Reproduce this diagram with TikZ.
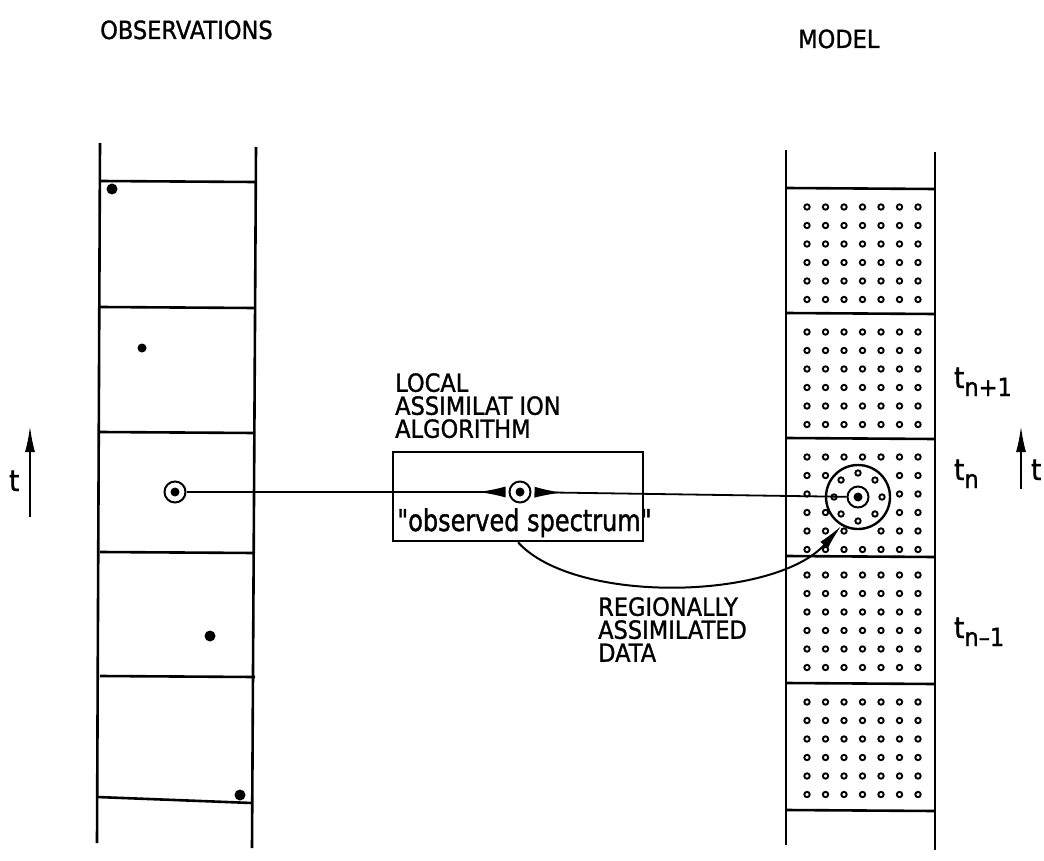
\documentclass[tikz,border=0pt]{standalone}
\usepackage{fontspec}
\setmainfont{DejaVu Sans}[FakeStretch=0.9,FakeBold=1.2]
\newfontfamily\specfont{DejaVu Sans}[FakeStretch=0.8,FakeBold=1.2]
\usetikzlibrary{arrows.meta,calc}
\begin{document}
\begin{tikzpicture}[x=1pt,y=-1pt,
  rail/.style={line width=2.6pt},
  lbl/.style={font=\fontsize{25}{23}\selectfont, inner sep=0pt, align=left},
  tlbl/.style={font=\fontsize{29}{29}\selectfont, inner sep=0pt},
  obsdot/.style={fill, circle, inner sep=0pt, minimum size=11pt},
  griddot/.style={line width=1.9pt},
  target/.style={draw, circle, line width=2pt, minimum size=21pt, inner sep=0pt,
    path picture={\fill (path picture bounding box.center) circle (4.5pt);}},
  wedge/.style={line width=1.8pt, shorten >=3pt, -{Latex[reversed,length=28pt,width=11pt]}},
  taxis/.style={line width=2pt, -{Latex[length=26pt,width=10pt]}},
]
\useasboundingbox (0,0) rectangle (1044,861);
\newcommand{\subsz}{\fontsize{25}{25}\selectfont}

% titles
\node[lbl, anchor=base west] (obsT) at (100,39) {OBSERVATIONS};
\node[lbl, anchor=base west] (modT) at (798,48) {MODEL};

% observation column
\draw[rail] (100,143) -- (97,843);
\draw[rail] (256,147) -- (252,848);
\foreach \y in {181,307,432,552,676}
  \draw[rail] (100,\y) -- (255,\y+1);
\draw[rail] (97,797) -- (252,803);
\node[obsdot] (o1) at (112,189) {};
\node[obsdot, minimum size=9pt] (o2) at (142,348) {};
\node[obsdot] (o3) at (210,636) {};
\node[obsdot] (o4) at (240,795) {};
\node[target] (obs) at (175,492) {};

% model column
\draw[rail] (786,150) -- (786,845);
\draw[rail] (935,152) -- (935,850);
\foreach \y in {188,313,438,556,683,810}
  \draw[rail] (786,\y) -- (935,\y+1);
\foreach \top in {188,313,438,556,683}{
  \foreach \i in {0,...,6}{
    \foreach \j in {0,...,5}{
      \pgfmathsetmacro\xx{807+18.5*\i}
      \pgfmathsetmacro\yy{\top+19+18.5*\j}
      \pgfmathsetmacro\dd{veclen(\xx-858,\yy-497)}
      \ifdim\dd pt<35pt\else
        \draw[griddot] (\xx,\yy) circle (2.7pt);
      \fi
    }
  }
}
\node[draw, circle, line width=2.4pt, minimum size=64pt, inner sep=0pt] (mout) at (858,497) {};
\node[target] (mdl) at (858,497) {};
\foreach \a in {0,45,...,315}
  \draw[griddot] ($(mdl)+(\a:24pt)$) circle (2.7pt);

% assimilation box
\node[lbl, anchor=north west] (alg) at (395,373) {LOCAL\\ASSIMILAT ION\\ALGORITHM};
\node[draw, line width=2.6pt, minimum width=250pt, minimum height=89pt, inner sep=0pt] (box) at (518,496.5) {};
\node[inner sep=0pt, anchor=base west, font=\specfont\fontsize{30}{30}\selectfont] (spec) at (397,531) {"observed spectrum"};
\node[target] (ctr) at (520,492) {};

\draw[wedge] (obs) -- (ctr);
\draw[wedge] (mdl) -- (ctr);

% regional assimilation arrow
\draw[line width=2pt, -{Latex[length=26pt,width=10pt]}] (box.south) .. controls (575,605) and (775,600) .. (mout.240);
\node[lbl, anchor=north west] (reg) at (598,597) {REGIONALLY\\ASSIMILATED\\DATA};

% time labels
\node[tlbl, anchor=base west] (tn1) at (954,388) {t\raisebox{-8pt}{\subsz n+1}};
\node[tlbl, anchor=base west] (tn) at (954,480) {t\raisebox{-8pt}{\subsz n}};
\node[tlbl, anchor=base west] (tm1) at (954,638) {t\raisebox{-8pt}{\subsz n–1}};

\coordinate (la0) at (30,517);
\coordinate (la1) at (30,426);
\draw[taxis] (la0) -- (la1);
\node[tlbl, anchor=base west] (tl) at (9,491) {t};
\coordinate (ra0) at (1021,489);
\coordinate (ra1) at (1021,426);
\draw[taxis] (ra0) -- (ra1);
\node[tlbl, anchor=base west] (tr) at (1031,480) {t};
\end{tikzpicture}
\end{document}
